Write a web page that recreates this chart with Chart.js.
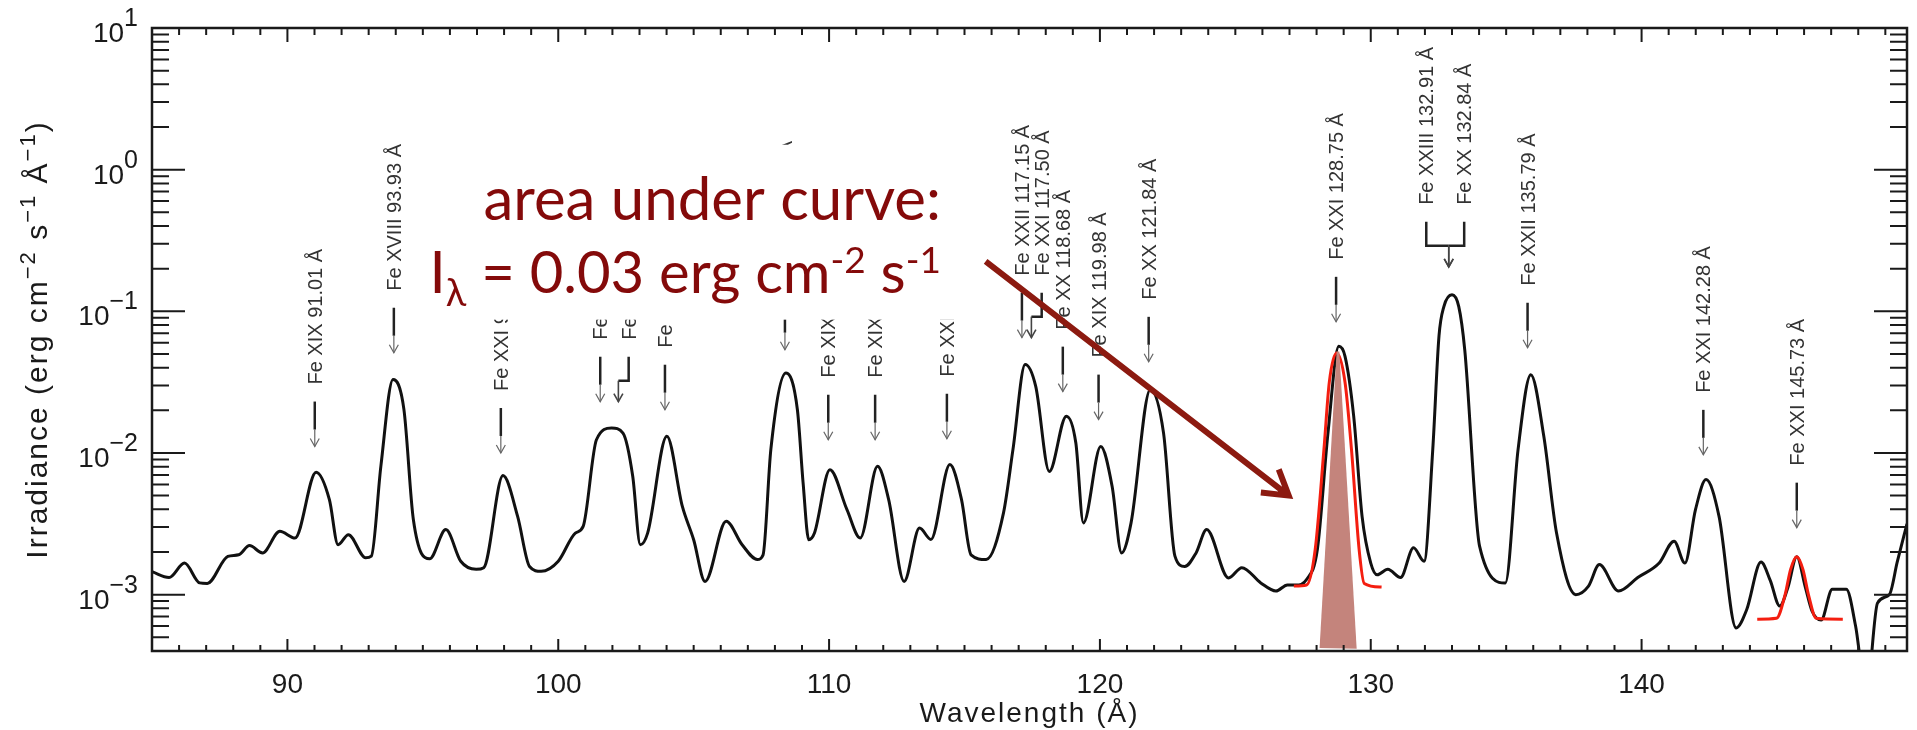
<!DOCTYPE html>
<html>
<head>
<meta charset="utf-8">
<title>Fe lines spectrum</title>
<style>
html,body{margin:0;padding:0;background:#ffffff;}
canvas{display:block;}
</style>
<script src="https://cdn.jsdelivr.net/npm/chart.js@4.4.1/dist/chart.umd.min.js"></script>
</head>
<body>
<canvas id="chart" width="1917" height="730"></canvas>
<script>
// spectrum: wavelength (Å) and irradiance (erg cm-2 s-1 Å-1)
const waveSpec=[
85.0,85.63,86.2,86.76,87.04,87.8,88.2,88.6,89.08,89.72,
90.28,91.06,91.55,91.87,92.25,92.89,93.1,93.45,93.9,94.3,
94.65,95.25,95.85,96.4,96.97,97.25,97.96,98.5,98.94,99.37,
100.0,100.63,100.92,101.41,101.97,102.39,102.75,103.03,103.3,104.01,
104.58,105.0,105.42,106.2,106.79,107.35,107.56,107.85,108.41,108.83,
109.04,109.25,109.46,110.03,110.66,111.15,111.79,112.2,112.77,113.34,
113.76,114.46,114.89,115.24,115.8,116.44,116.79,117.24,117.63,118.13,
118.76,119.11,119.39,120.03,120.45,120.8,121.15,121.86,122.35,122.77,
123.13,123.55,123.94,124.75,125.24,125.94,126.5,126.92,127.24,127.63,
128.03,128.42,128.82,129.05,129.37,129.68,130.0,130.24,130.63,131.1,
131.58,131.97,132.29,132.52,132.7,133.0,133.25,133.47,134.02,134.97,
135.44,135.91,136.39,136.86,137.57,138.04,138.44,139.15,139.86,140.65,
141.2,141.6,141.99,142.38,142.86,143.49,143.88,144.41,144.75,145.1,
145.4,145.73,146.05,146.3,146.63,147.04,147.56,147.9,148.3,148.71,
149.15,149.44,149.8
];
const irrSpec=[
1.45e-3,1.32e-3,1.67e-3,1.21e-3,1.20e-3,1.86e-3,1.91e-3,2.22e-3,1.97e-3,2.80e-3,
2.51e-3,7.31e-3,4.68e-3,2.25e-3,2.65e-3,1.82e-3,1.87e-3,8.05e-3,3.30e-2,2.04e-2,
3.39e-3,1.79e-3,2.88e-3,1.72e-3,1.51e-3,1.55e-3,6.92e-3,3.57e-3,1.58e-3,1.46e-3,
1.72e-3,2.72e-3,3.03e-3,1.24e-2,1.50e-2,1.38e-2,6.84e-3,2.25e-3,2.72e-3,1.31e-2,
4.21e-3,2.44e-3,1.24e-3,3.30e-3,2.25e-3,1.77e-3,1.90e-3,1.06e-2,3.67e-2,2.02e-2,
6.17e-3,2.44e-3,2.72e-3,7.62e-3,3.98e-3,2.51e-3,8.05e-3,4.68e-3,1.24e-3,2.95e-3,
2.45e-3,8.28e-3,4.68e-3,1.91e-3,1.77e-3,3.78e-3,1.06e-2,4.21e-2,2.95e-2,7.41e-3,
1.82e-2,1.18e-2,3.21e-3,1.11e-2,5.82e-3,1.97e-3,3.21e-3,2.80e-2,1.38e-2,1.87e-3,
1.58e-3,1.97e-3,2.88e-3,1.31e-3,1.55e-3,1.21e-3,1.06e-3,1.17e-3,1.17e-3,1.28e-3,
2.09e-3,1.38e-2,5.66e-2,4.81e-2,1.82e-2,3.57e-3,1.67e-3,1.38e-3,1.51e-3,1.32e-3,
2.14e-3,1.72e-3,1.06e-2,6.7e-2,1.08e-1,1.31e-1,1.08e-1,5.37e-2,2.19e-3,1.21e-3,
1.06e-2,3.57e-2,1.31e-2,2.72e-3,1.00e-3,1.15e-3,1.63e-3,1.06e-3,1.32e-3,1.67e-3,
2.38e-3,1.67e-3,3.98e-3,6.49e-3,3.57e-3,5.82e-4,7.83e-4,1.70e-3,1.26e-3,8.3e-4,
1.12e-3,1.85e-3,1.12e-3,7.6e-4,6.61e-4,1.09e-3,1.09e-3,6.03e-4,2.0e-4,8.71e-4,
1.00e-3,1.70e-3,3.16e-3
];
// red gaussian fits
const waveFit1=[127.16,127.63,127.95,128.27,128.47,128.74,129.05,129.29,129.57,129.76,130.4];
const irrFit1=[1.15e-3,1.17e-3,2.09e-3,1.05e-2,3.16e-2,5.08e-2,3.16e-2,1.05e-2,2.09e-3,1.20e-3,1.13e-3];
const waveFit2=[144.27,144.98,145.3,145.5,145.73,145.96,146.16,146.45,147.43];
const irrFit2=[6.7e-4,6.8e-4,1.0e-3,1.5e-3,1.85e-3,1.5e-3,1.0e-3,6.8e-4,6.7e-4];
// shaded "area under curve" wedge
const waveShade=[128.11,128.74,128.84,129.48];
const irrShade=[4.2e-4,5.2e-2,5.2e-2,4.15e-4];

// axis ticks
const xTickValues=[90,100,110,120,130,140];
const yTickValues=[10,1,0.1,0.01,0.001];
const yTickExps=["1","0","−1","−2","−3"];

// line identifications
const labelText=["Fe XIX 91.01 Å","Fe XVIII 93.93 Å","Fe XXI 97.88 Å","Fe XIX 101.55 Å","Fe XXI 102.22 Å",
"Fe XVIII 103.94 Å","Fe XIX 108.37 Å","Fe XIX 109.97 Å","Fe XIX 111.70 Å","Fe XXI 114.41 Å",
"Fe XXII 117.15 Å","Fe XXI 117.50 Å","Fe XX 118.68 Å","Fe XIX 119.98 Å","Fe XX 121.84 Å",
"Fe XXI 128.75 Å","Fe XXIII 132.91 Å","Fe XX 132.84 Å","Fe XXII 135.79 Å","Fe XXI 142.28 Å","Fe XXI 145.73 Å"];
const labelWave=[91.01,93.93,97.88,101.55,102.6,103.94,108.37,109.97,111.7,114.35,
117.12,117.85,118.63,119.95,121.8,128.72,132.05,133.45,135.79,142.28,145.73];
const arrowWave=[91.01,93.93,97.88,101.55,102.22,103.94,108.37,109.97,111.7,114.35,
117.12,117.47,118.63,119.95,121.8,128.72,132.88,132.88,135.79,142.28,145.73];
// irradiance the arrow tip points at
const arrowTip=[1.11e-2,5.1e-2,1.0e-2,2.3e-2,2.3e-2,2.02e-2,5.36e-2,1.24e-2,1.24e-2,1.26e-2,
6.52e-2,6.52e-2,2.71e-2,1.72e-2,4.4e-2,8.43e-2,0.206,0.206,5.53e-2,9.7e-3,2.97e-3];
const labelHook=[false,false,false,false,true,false,false,false,false,false,
false,true,false,false,false,false,true,true,false,false,false];

const X_MIN=85, X_MAX=149.8, Y_MIN=4e-4, Y_MAX=10;
const SANS='"Liberation Sans", Arial, sans-serif';
const NOTE='Lato, "Open Sans", sans-serif';

function toXY(xs,ys){
    return xs.map((x,i)=>({x:x,y:ys[i]}));
}

// draws runs of [text, fontPx, dy] one after another from x
function drawRuns(ctx,runs,x,base,family){
    runs.forEach(r=>{
        ctx.font=r[1]+"px "+family;
        ctx.fillText(r[0],x,base+r[2]);
        x+=ctx.measureText(r[0]).width;
    });
}
function runsWidth(ctx,runs,family){
    let w=0;
    runs.forEach(r=>{ctx.font=r[1]+"px "+family;w+=ctx.measureText(r[0]).width;});
    return w;
}

const axesPlugin={
    id:"axes",
    afterDatasetsDraw(chart){
        const ctx=chart.ctx;
        const a=chart.chartArea;
        const x=chart.scales.x, y=chart.scales.y;
        ctx.save();
        ctx.strokeStyle="#1a1a1a";
        ctx.lineWidth=2.5;
        ctx.strokeRect(a.left,a.top,a.right-a.left,a.bottom-a.top);
        ctx.lineWidth=2;
        ctx.beginPath();
        for(let w=Math.ceil(X_MIN);w<=X_MAX;w++){
            const px=x.getPixelForValue(w);
            const major=w%10===0;
            ctx.moveTo(px,a.bottom);ctx.lineTo(px,a.bottom-(major?12:6));
            ctx.moveTo(px,a.top);ctx.lineTo(px,a.top+(major?14:7));
        }
        for(let e=-4;e<=1;e++){
            for(let m=1;m<=9;m++){
                const v=m*Math.pow(10,e);
                if(v<Y_MIN*0.999||v>Y_MAX*1.001) continue;
                const py=y.getPixelForValue(v);
                const len=m===1?33:17;
                ctx.moveTo(a.left,py);ctx.lineTo(a.left+len,py);
                ctx.moveTo(a.right,py);ctx.lineTo(a.right-len,py);
            }
        }
        ctx.stroke();

        ctx.fillStyle="#1a1a1a";
        ctx.textBaseline="alphabetic";
        ctx.textAlign="center";
        ctx.font="28px "+SANS;
        xTickValues.forEach(v=>{
            ctx.fillText(String(v),x.getPixelForValue(v),a.bottom+42);
        });
        ctx.letterSpacing="2px";
        ctx.font="28px "+SANS;
        ctx.fillText("Wavelength (Å)",(a.left+a.right)/2,a.bottom+71);
        ctx.letterSpacing="0px";

        ctx.textAlign="left";
        yTickValues.forEach((v,i)=>{
            const py=y.getPixelForValue(v);
            const runs=[["10",28,14],[yTickExps[i],25,-2]];
            const w=runsWidth(ctx,runs,SANS);
            drawRuns(ctx,runs,a.left-14-w,py,SANS);
        });

        // rotated y title with superscripts
        ctx.letterSpacing="2px";
        const title=[["Irradiance (erg cm",30,0],["−2",22,-12],[" s",30,0],["−1",22,-12],[" Å",30,0],["−1",22,-12],[")",30,0]];
        const tw=runsWidth(ctx,title,SANS);
        ctx.translate(47,(a.top+a.bottom)/2);
        ctx.rotate(-Math.PI/2);
        drawRuns(ctx,title,-tw/2,0,SANS);
        ctx.letterSpacing="0px";
        ctx.restore();
    }
};

function arrowHead(ctx,x,y){
    ctx.beginPath();
    ctx.moveTo(x-4.5,y-8);ctx.lineTo(x,y);ctx.lineTo(x+4.5,y-8);
    ctx.stroke();
}

const labelPlugin={
    id:"labels",
    afterDatasetsDraw(chart){
        const ctx=chart.ctx;
        const x=chart.scales.x, y=chart.scales.y;
        ctx.save();
        labelText.forEach((t,i)=>{
            const tx=x.getPixelForValue(labelWave[i]);
            const ax=x.getPixelForValue(arrowWave[i]);
            const ty=y.getPixelForValue(arrowTip[i]);
            ctx.save();
            ctx.fillStyle="#333";
            ctx.font="20px "+SANS;
            ctx.textAlign="left";
            ctx.textBaseline="alphabetic";
            ctx.translate(tx+7,ty-62);
            ctx.rotate(-Math.PI/2);
            ctx.fillText(t,0,0);
            ctx.restore();
            ctx.strokeStyle="#222";
            ctx.lineWidth=2.5;
            ctx.beginPath();
            if(labelHook[i]){
                ctx.moveTo(tx,ty-45);ctx.lineTo(tx,ty-21);ctx.lineTo(ax,ty-21);
                ctx.stroke();
                ctx.lineWidth=1.6;ctx.strokeStyle="#444";
                ctx.beginPath();ctx.moveTo(ax,ty-21);ctx.lineTo(ax,ty);ctx.stroke();
            }else{
                ctx.moveTo(ax,ty-45);ctx.lineTo(ax,ty-17);
                ctx.stroke();
                ctx.lineWidth=1.2;ctx.strokeStyle="#666";
                ctx.beginPath();ctx.moveTo(ax,ty-17);ctx.lineTo(ax,ty);ctx.stroke();
            }
            arrowHead(ctx,ax,ty);
        });

        // white text box of the note, covering part of the labels
        const bx0=x.getPixelForValue(94.31), bx1=x.getPixelForValue(114.94);
        const by0=y.getPixelForValue(1.5), by1=y.getPixelForValue(0.0873);
        ctx.fillStyle="#ffffff";
        ctx.fillRect(bx0,by0,bx1-bx0,by1-by0);

        // note text, right aligned
        const noteRight=x.getPixelForValue(114.13);
        ctx.fillStyle="#840a0a";
        ctx.textAlign="left";
        ctx.textBaseline="alphabetic";
        const line1=[["area under curve:",60,0]];
        const line2=[["I",58,0],["λ",38,13],[" = 0.03 erg cm",58,0],["-2",37,-20],[" s",58,0],["-1",37,-20]];
        drawRuns(ctx,line1,noteRight-runsWidth(ctx,line1,NOTE),y.getPixelForValue(0.443),NOTE);
        drawRuns(ctx,line2,noteRight-runsWidth(ctx,line2,NOTE),y.getPixelForValue(0.1355),NOTE);

        // arrow to the fitted line
        const x0=x.getPixelForValue(115.78), y0=y.getPixelForValue(0.225);
        const x1=x.getPixelForValue(126.97), y1=y.getPixelForValue(5.0e-3);
        const ang=Math.atan2(y1-y0,x1-x0);
        ctx.strokeStyle="#8c1a10";
        ctx.lineWidth=6;
        ctx.beginPath();
        ctx.moveTo(x0,y0);ctx.lineTo(x1,y1);
        ctx.moveTo(x1-28*Math.cos(ang-0.55),y1-28*Math.sin(ang-0.55));
        ctx.lineTo(x1,y1);
        ctx.lineTo(x1-28*Math.cos(ang+0.55),y1-28*Math.sin(ang+0.55));
        ctx.stroke();
        ctx.restore();
    }
};

new Chart(document.getElementById("chart"),{
    type:"line",
    data:{
        datasets:[
            {
                label:"area",
                data:toXY(waveShade,irrShade),
                fill:"shape",
                backgroundColor:"#c4847c",
                borderWidth:0,
                pointRadius:0,
                tension:0,
                order:0
            },
            {
                label:"fit 128.75",
                data:toXY(waveFit1,irrFit1),
                borderColor:"#f41e10",
                borderWidth:3,
                pointRadius:0,
                fill:false,
                cubicInterpolationMode:"monotone",
                order:1
            },
            {
                label:"fit 145.73",
                data:toXY(waveFit2,irrFit2),
                borderColor:"#f41e10",
                borderWidth:3,
                pointRadius:0,
                fill:false,
                cubicInterpolationMode:"monotone",
                order:1
            },
            {
                label:"spectrum",
                data:toXY(waveSpec,irrSpec),
                borderColor:"#111111",
                borderWidth:3,
                pointRadius:0,
                fill:false,
                cubicInterpolationMode:"monotone",
                order:2
            }
        ]
    },
    options:{
        responsive:false,
        animation:false,
        events:[],
        layout:{padding:{left:152,top:28,right:10,bottom:79}},
        plugins:{legend:{display:false},tooltip:{enabled:false}},
        scales:{
            x:{type:"linear",min:X_MIN,max:X_MAX,display:false},
            y:{type:"logarithmic",min:Y_MIN,max:Y_MAX,display:false}
        }
    },
    plugins:[axesPlugin,labelPlugin]
});
</script>
</body>
</html>
